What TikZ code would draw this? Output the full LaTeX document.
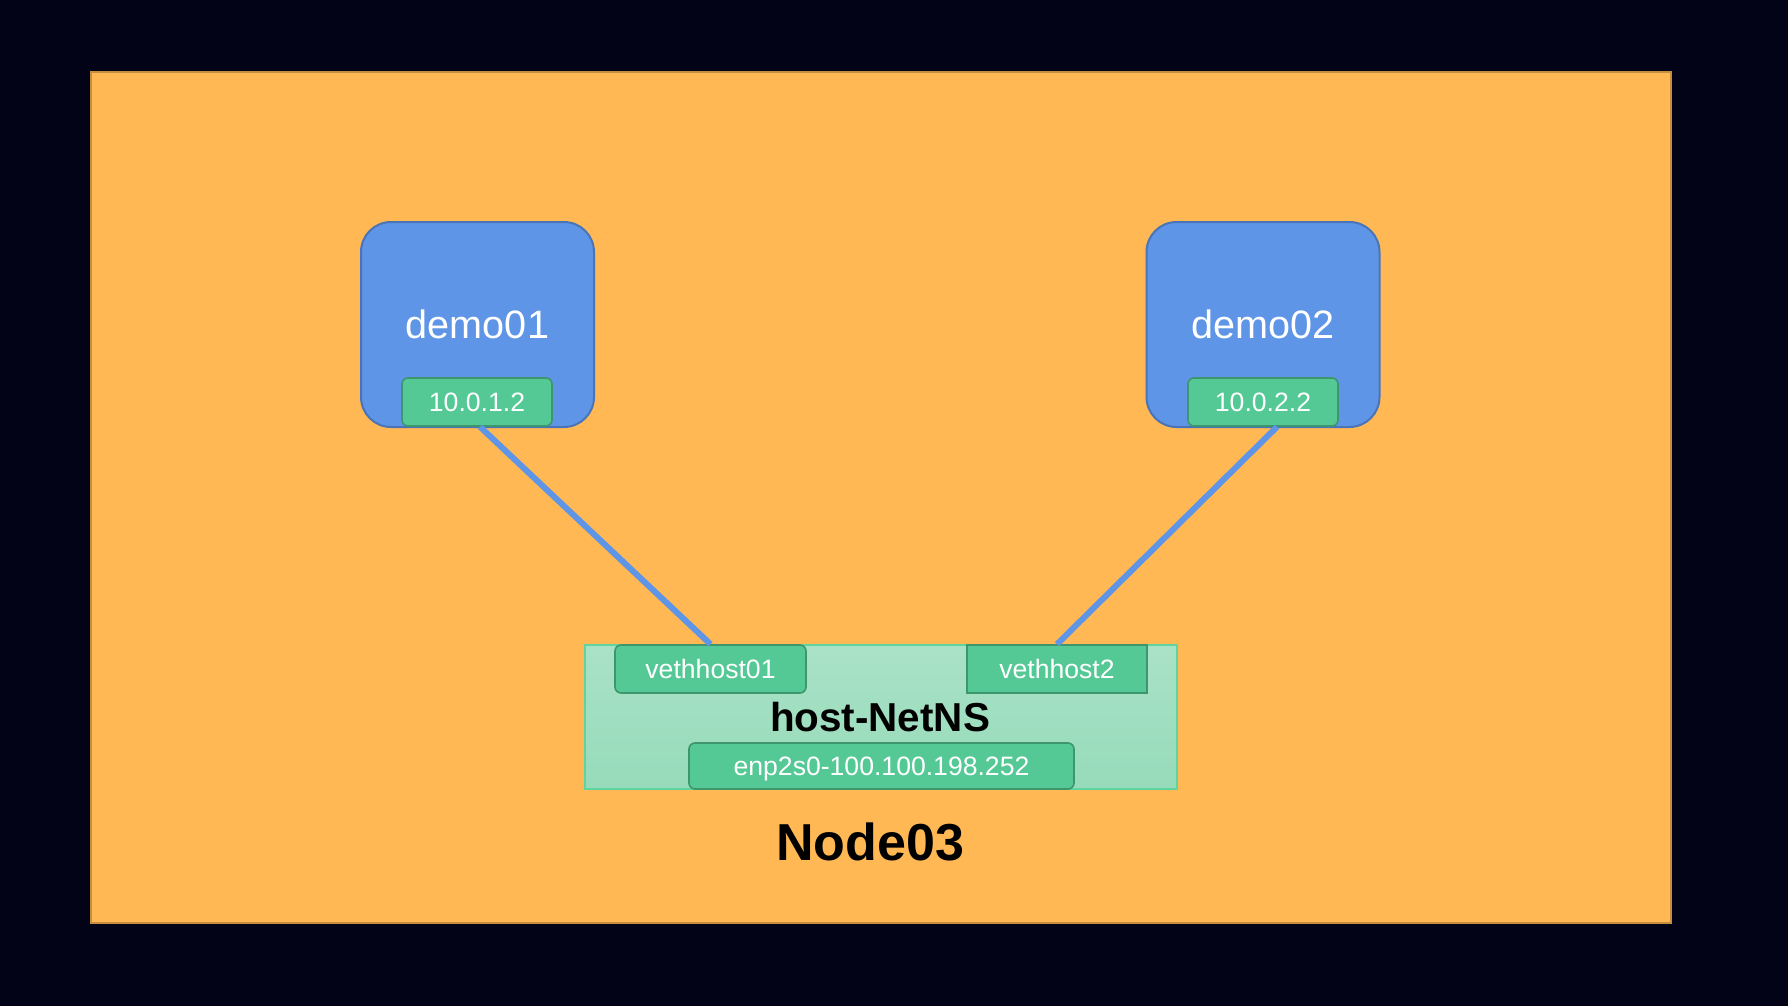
\documentclass[tikz,border=0pt]{standalone}
\usepackage{fontspec}
\setmainfont{Liberation Sans}
\usetikzlibrary{calc}
\definecolor{nightbg}{RGB}{3,3,24}
\definecolor{hostorange}{RGB}{255,184,84}
\definecolor{hostedge}{RGB}{196,142,62}
\definecolor{podblue}{RGB}{94,149,230}
\definecolor{podedge}{RGB}{74,116,184}
\definecolor{ifgreen}{RGB}{84,201,149}
\definecolor{ifedge}{RGB}{62,150,108}
\definecolor{nstop}{RGB}{170,226,199}
\definecolor{nsbottom}{RGB}{150,219,186}
\definecolor{nsedge}{RGB}{96,212,160}

\begin{document}
\begin{tikzpicture}[x=0.5pt,y=-0.5pt,
  pod/.style={draw=podedge,line width=1pt,fill=podblue,rounded corners=15pt,minimum width=116.5pt,minimum height=102.5pt,inner sep=0pt,text=white,font=\fontsize{19.8}{23}\selectfont},
  iface/.style={draw=ifedge,line width=0.8pt,fill=ifgreen,rounded corners=3pt,minimum height=24pt,inner sep=0pt,text depth=0pt,text=white,font=\fontsize{13.3}{15}\selectfont},
  link/.style={podblue,line width=3pt}]
\fill[nightbg] (0,0) rectangle (1788,1006);
\useasboundingbox (0,0) rectangle (1788,1006);
\draw[hostedge,fill=hostorange,line width=1pt] (91,72) rectangle (1671,923);
\node[font=\fontsize{26}{30}\selectfont\bfseries] (node03) at (870,842) {Node03};

\node[pod] (demo01) at (477.5,324.5) {demo01};
\node[pod] (demo02) at (1263,324.5) {demo02};
\node[iface,minimum width=75pt] (ip1) at (477,402) {10.0.1.2};
\node[iface,minimum width=75pt] (ip2) at (1263,402) {10.0.2.2};

\node[draw=nsedge,line width=0.8pt,top color=nstop,bottom color=nsbottom,minimum width=296pt,minimum height=72pt,inner sep=0pt] (hostns) at (881,717) {};
\node[font=\fontsize{20.2}{24}\selectfont\bfseries] at (880,717) {host-NetNS};
\node[iface,minimum width=95.5pt] (veth1) at (710.5,669) {vethhost01};
\node[iface,minimum width=90pt,rounded corners=0pt] (veth2) at (1057,669) {vethhost2};
\node[iface,minimum width=192.5pt,minimum height=23pt] (enp) at (881.5,766) {enp2s0-100.100.198.252};

\draw[link] ($(ip1.south)+(3,0)$) -- (veth1.north);
\draw[link] ($(ip2.south)+(14,0)$) -- (veth2.north);
\end{tikzpicture}
\end{document}
